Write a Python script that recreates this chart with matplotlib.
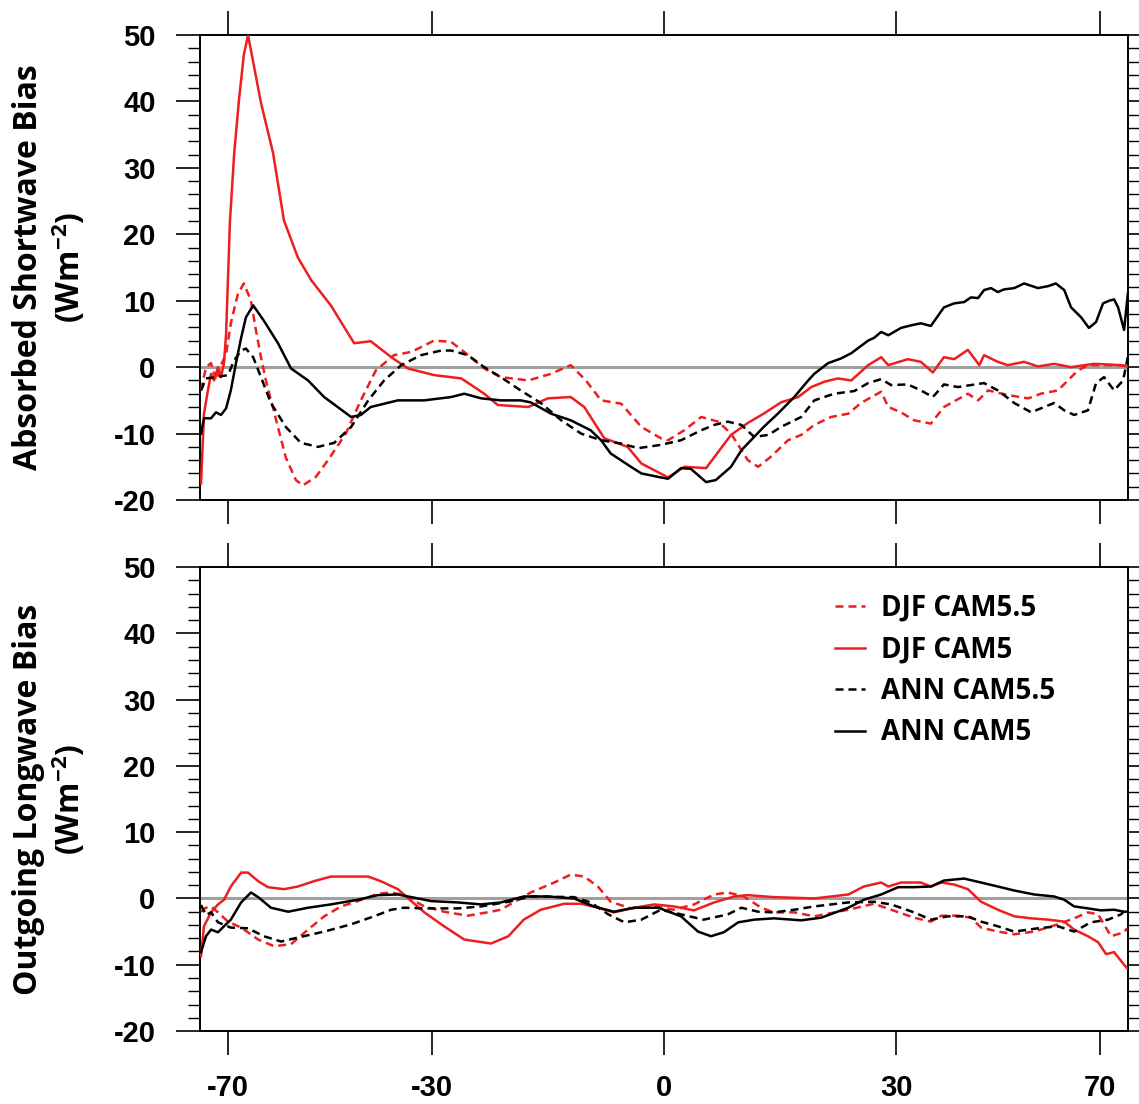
import numpy as np
import matplotlib
matplotlib.use("Agg")
import matplotlib.pyplot as plt
from matplotlib.ticker import FixedLocator, MultipleLocator

# ========== DATA (latitude in deg, bias in W m-2) ==========
sw_djf55_lat = [-86.2, -80.8, -77.5, -74.9, -72.7, -70.7, -69.0, -66.7, -64.9, -62.9,
                -61.6, -60.3, -59.1, -56.7, -54.6, -52.5, -51.1, -48.6, -46.4, -43.3,
                -40.8, -38.4, -35.6, -33.0, -31.6, -29.7, -27.3, -25.3, -22.8, -20.6,
                -17.0, -14.1, -11.6, -9.7, -7.8, -5.3, -2.8, -0.4, 0.5, 2.5,
                4.6, 6.7, 8.3, 10.4, 11.7, 13.3, 15.5, 17.2, 18.9, 21.1,
                23.4, 25.1, 27.9, 28.9, 30.7, 32.6, 35.1, 37.1, 40.9, 42.6,
                44.3, 47.8, 51.7, 54.3, 58.1, 60.5, 63.1, 66.0, 75.9, 86.2]
sw_djf55_val = [-3.5, 0.0, 0.6, -2.0, 0.3, 2.0, 6.6, 11.0, 12.6, 10.0,
                5.6, 1.5, -2.0, -8.0, -13.6, -17.0, -17.8, -16.5, -14.0, -10.0,
                -5.0, -0.5, 1.8, 2.3, 3.0, 4.0, 3.8, 2.1, -0.2, -1.5,
                -2.0, -1.0, 0.3, -2.0, -5.0, -5.5, -9.0, -10.7, -11.0, -9.5,
                -7.5, -8.2, -10.0, -14.0, -15.0, -13.5, -11.0, -10.2, -8.7, -7.5,
                -7.0, -5.4, -3.7, -6.0, -6.8, -8.0, -8.5, -6.0, -4.0, -5.0,
                -3.5, -4.2, -4.7, -4.0, -3.5, -2.0, -0.5, 0.3, 0.3, 0.2]

sw_djf5_lat = [-86.2, -82.5, -79.4, -77.5, -75.9, -74.0, -72.7, -71.5, -70.7, -69.3,
               -67.9, -66.4, -64.9, -63.7, -62.9, -60.3, -57.4, -55.0, -52.1, -49.5,
               -45.9, -41.9, -39.2, -36.0, -33.5, -29.7, -25.9, -22.8, -21.0, -17.0,
               -14.5, -11.6, -9.9, -7.4, -4.5, -2.8, 0.5, 2.5, 5.2, 8.3,
               10.4, 12.4, 14.6, 16.8, 18.5, 20.2, 22.0, 23.8, 26.1, 27.9,
               28.9, 31.7, 33.6, 35.4, 37.1, 38.7, 40.9, 42.8, 43.6, 46.0,
               47.8, 50.9, 53.7, 57.2, 61.3, 67.9, 80.0, 86.2]
sw_djf5_val = [-17.5, -7.0, -3.5, -1.0, -2.0, 0.0, -1.5, 0.6, 5.0, 22.0,
               32.0, 40.0, 47.0, 50.0, 47.7, 39.8, 32.2, 22.1, 16.5, 13.1,
               9.3, 3.6, 3.9, 1.5, -0.2, -1.2, -1.7, -4.0, -5.7, -6.0,
               -4.7, -4.5, -6.0, -10.7, -12.0, -14.5, -16.6, -15.0, -15.2, -10.2,
               -8.4, -7.0, -5.3, -4.5, -3.0, -2.2, -1.7, -2.0, 0.3, 1.5,
               0.3, 1.2, 0.8, -0.8, 1.5, 1.2, 2.6, 0.3, 1.8, 0.8,
               0.3, 0.8, 0.1, 0.5, 0.0, 0.5, 0.3, 0.1]

sw_ann55_lat = [-86.2, -80.8, -74.9, -70.0, -67.9, -65.7, -64.3, -62.3, -60.3, -57.9,
                -54.6, -51.5, -48.2, -45.3, -42.4, -39.6, -37.1, -34.5, -31.6, -28.7,
                -27.3, -25.0, -22.8, -20.6, -18.0, -15.4, -12.8, -10.3, -7.8, -5.3,
                -3.2, -0.4, 2.1, 4.6, 6.2, 7.9, 9.6, 11.2, 13.0, 14.6,
                17.2, 18.9, 21.5, 24.2, 26.1, 27.9, 29.3, 31.7, 33.6, 35.4,
                37.1, 39.3, 41.4, 43.6, 46.0, 49.0, 52.3, 55.0, 57.2, 59.6,
                62.1, 66.0, 68.6, 71.5, 75.9, 81.6, 88.0]
sw_ann55_val = [-3.5, -1.7, -1.5, -1.2, 1.0, 2.5, 2.8, 1.5, -1.5, -5.4,
                -9.0, -11.4, -12.0, -11.4, -9.0, -5.0, -2.0, 0.3, 1.8, 2.5,
                2.5, 1.8, 0.0, -1.5, -3.5, -5.4, -8.0, -10.0, -11.0, -11.5,
                -12.2, -11.7, -11.0, -9.5, -8.7, -8.2, -8.7, -10.5, -10.2, -9.0,
                -7.5, -5.0, -4.0, -3.6, -2.4, -1.8, -2.7, -2.6, -3.5, -4.5,
                -2.6, -3.0, -2.7, -2.4, -3.5, -5.4, -6.8, -6.0, -5.4, -6.5,
                -7.2, -6.5, -2.4, -1.5, -3.5, -2.0, 1.5]

sw_ann5_lat = [-86.2, -82.5, -77.5, -74.9, -72.7, -70.7, -69.0, -67.3, -65.7, -64.3,
               -62.3, -59.6, -56.3, -53.5, -50.1, -47.1, -42.4, -40.8, -39.2, -35.0,
               -31.1, -27.3, -25.5, -23.2, -20.6, -18.0, -16.7, -14.1, -11.6, -9.1,
               -7.8, -6.6, -4.1, -2.8, -0.4, 0.5, 2.1, 3.3, 5.2, 6.4,
               8.3, 9.6, 10.8, 12.4, 14.2, 16.3, 18.1, 18.9, 20.7, 22.4,
               23.8, 26.1, 26.9, 27.9, 28.9, 30.7, 32.2, 33.6, 35.1, 37.1,
               38.7, 40.3, 41.4, 42.6, 43.6, 44.8, 46.0, 47.1, 49.0, 50.9,
               53.7, 55.9, 57.6, 59.6, 61.3, 64.0, 66.3, 68.6, 71.1, 73.6,
               75.9, 78.1, 82.5, 88.0]
sw_ann5_val = [-10.0, -7.7, -7.7, -6.8, -7.2, -6.2, -3.5, 0.6, 4.4, 7.5,
               9.3, 7.0, 3.6, -0.2, -2.0, -4.5, -7.5, -7.2, -6.0, -5.0,
               -5.0, -4.5, -4.0, -4.7, -5.0, -5.0, -5.3, -7.0, -8.0, -9.5,
               -11.0, -13.0, -15.0, -16.0, -16.6, -16.8, -15.2, -15.3, -17.3, -17.0,
               -15.0, -12.5, -11.0, -9.0, -7.0, -4.5, -2.0, -1.0, 0.6, 1.3,
               2.1, 4.0, 4.4, 5.3, 4.8, 5.9, 6.3, 6.6, 6.2, 9.0,
               9.6, 9.8, 10.5, 10.4, 11.6, 11.9, 11.3, 11.7, 11.9, 12.6,
               11.9, 12.2, 12.6, 11.6, 9.0, 7.5, 5.9, 6.8, 9.6, 10.0,
               10.2, 9.0, 5.6, 11.0]

lw_djf55_lat = [-86.2, -80.8, -77.5, -74.0, -70.0, -65.7, -61.0, -57.2, -53.5, -50.1,
                -47.1, -44.1, -41.3, -38.1, -36.0, -34.1, -31.1, -28.3, -25.0, -21.9,
                -20.6, -16.7, -13.7, -11.6, -9.9, -8.2, -6.6, -4.1, -1.2, 1.2,
                3.7, 6.2, 7.9, 9.9, 12.1, 13.7, 16.3, 18.9, 23.4, 26.9,
                29.3, 32.6, 35.1, 36.7, 39.3, 41.4, 43.1, 46.0, 49.0, 52.9,
                58.1, 62.1, 66.0, 69.3, 74.4, 82.5, 86.2]
lw_djf55_val = [-2.0, -1.4, -1.2, -2.1, -3.5, -4.4, -6.2, -7.2, -6.9, -4.7,
                -2.7, -1.2, -0.4, 0.7, 0.9, 0.5, -1.2, -2.0, -2.6, -2.0,
                -1.7, 0.9, 2.4, 3.6, 3.3, 1.8, -0.5, -1.5, -1.2, -1.7,
                -0.9, 0.6, 0.9, 0.3, -1.4, -2.1, -2.1, -2.7, -1.7, -0.8,
                -1.7, -2.9, -3.5, -2.6, -2.6, -2.9, -4.4, -5.0, -5.4, -5.0,
                -3.9, -3.0, -2.1, -2.4, -5.7, -5.1, -4.5]

lw_djf5_lat = [-86.2, -82.5, -77.5, -74.0, -71.5, -69.0, -65.7, -63.7, -61.0, -58.6,
               -55.0, -52.1, -49.0, -45.9, -42.9, -39.6, -37.6, -35.0, -33.0, -31.1,
               -28.3, -25.5, -21.9, -19.6, -17.6, -15.4, -12.4, -10.3, -8.2, -6.2,
               -3.7, -1.2, 1.2, 3.7, 6.2, 8.7, 10.4, 13.7, 18.9, 23.4,
               25.5, 27.9, 28.9, 30.7, 33.6, 35.1, 36.7, 38.7, 40.9, 43.1,
               46.0, 49.0, 52.3, 55.9, 59.6, 62.1, 66.0, 69.3, 72.3, 75.9,
               82.5, 86.2]
lw_djf5_val = [-8.7, -4.2, -2.1, -0.9, -0.2, 1.8, 3.9, 3.9, 2.6, 1.7,
               1.4, 1.8, 2.6, 3.3, 3.3, 3.3, 2.6, 1.4, -0.4, -2.1,
               -4.2, -6.2, -6.8, -5.7, -3.2, -1.7, -0.8, -0.8, -1.4, -2.1,
               -1.4, -0.9, -1.2, -1.8, -0.6, 0.3, 0.5, 0.2, 0.0, 0.6,
               1.8, 2.4, 1.8, 2.4, 2.4, 1.8, 2.4, 2.1, 1.4, -0.5,
               -1.7, -2.7, -3.0, -3.2, -3.5, -4.7, -5.7, -6.6, -8.4, -8.1,
               -10.0, -10.5]

lw_ann55_lat = [-86.2, -80.8, -77.5, -74.0, -69.0, -63.7, -59.6, -55.6, -52.1, -47.1,
                -42.4, -38.7, -36.0, -34.1, -31.1, -26.4, -23.2, -19.6, -16.7, -11.2,
                -9.1, -6.9, -4.9, -2.8, -0.4, 2.1, 4.9, 7.9, 9.6, 11.7,
                13.7, 16.3, 18.9, 23.4, 26.9, 29.3, 32.6, 35.1, 37.7, 40.9,
                43.1, 46.0, 49.0, 53.7, 58.1, 62.1, 66.9, 73.1, 80.0, 86.2]
lw_ann55_val = [-1.0, -2.5, -2.1, -3.6, -4.4, -4.5, -5.7, -6.5, -5.9, -5.0,
                -3.9, -2.7, -1.7, -1.4, -1.5, -1.5, -1.2, -0.5, 0.3, 0.2,
                -0.6, -2.4, -3.6, -3.2, -1.7, -2.4, -3.2, -2.4, -1.4, -2.0,
                -2.1, -1.7, -1.2, -0.6, -0.5, -0.9, -2.1, -3.2, -2.7, -2.7,
                -3.5, -4.2, -5.0, -4.5, -4.2, -5.0, -3.6, -3.2, -2.4, -1.5]

lw_ann5_lat = [-86.2, -80.8, -77.5, -74.0, -71.5, -69.0, -65.7, -62.9, -61.0, -57.9,
               -54.1, -50.1, -45.9, -41.3, -38.1, -35.0, -33.0, -30.1, -26.4, -23.2,
               -20.6, -17.6, -14.5, -11.2, -8.7, -6.2, -3.7, -0.7, 2.1, 4.2,
               5.8, 7.4, 9.2, 11.2, 13.7, 17.2, 19.8, 23.4, 25.5, 27.9,
               30.3, 32.6, 35.1, 37.1, 40.3, 43.1, 46.0, 49.0, 52.9, 57.2,
               59.6, 62.1, 66.0, 70.3, 75.9, 82.5, 86.2]
lw_ann5_val = [-8.1, -5.7, -4.7, -5.1, -4.2, -3.2, -0.6, 0.9, 0.2, -1.4,
               -2.0, -1.4, -0.9, -0.2, 0.5, 0.6, 0.2, -0.4, -0.6, -0.9,
               -0.6, 0.3, 0.3, 0.0, -1.2, -2.0, -1.4, -1.4, -2.7, -5.0,
               -5.7, -5.1, -3.6, -3.2, -3.0, -3.3, -2.9, -1.4, -0.2, 0.6,
               1.7, 1.7, 1.8, 2.7, 3.0, 2.4, 1.8, 1.2, 0.6, 0.3,
               -0.2, -1.2, -1.5, -1.8, -1.7, -2.0, -2.0]

x_ticks = [-70, -30, 0, 30, 70]
y_ticks = [-20, -10, 0, 10, 20, 30, 40, 50]
panel_labels = ["Absorbed Shortwave Bias\n(Wm$^{\\mathbf{-2}}$)",
                "Outgoing Longwave Bias\n(Wm$^{\\mathbf{-2}}$)"]
legend_labels = ["DJF CAM5.5", "DJF CAM5", "ANN CAM5.5", "ANN CAM5"]
# ============================

RED = "#ee1e1e"
DASH = (0, (3.2, 2.0))
TICK_FONT = "Liberation Sans"
LABEL_FONT = "Open Sans"

plt.rcParams["mathtext.fontset"] = "custom"
plt.rcParams["mathtext.rm"] = LABEL_FONT
plt.rcParams["mathtext.bf"] = LABEL_FONT + ":bold"


def sin_lat(x):
    return np.sin(np.deg2rad(x))


def inv_sin_lat(y):
    return np.rad2deg(np.arcsin(np.clip(y, -1, 1)))


def style_axis(ax, show_xlabels):
    ax.set_xscale("function", functions=(sin_lat, inv_sin_lat))
    ax.set_xlim(-90, 90)
    ax.set_ylim(-20, 50)
    ax.xaxis.set_major_locator(FixedLocator(x_ticks))
    ax.xaxis.set_minor_locator(FixedLocator([]))
    ax.yaxis.set_major_locator(FixedLocator(y_ticks))
    ax.yaxis.set_minor_locator(MultipleLocator(2))
    ax.axhline(0, color="#a0a0a0", lw=2.2, zorder=1)
    for s in ax.spines.values():
        s.set_linewidth(1.4)
    ax.tick_params(axis="x", which="major", direction="out", length=17, width=1.2,
                   top=True, bottom=True, labelbottom=show_xlabels, pad=14,
                   labelsize=21)
    ax.tick_params(axis="y", which="major", direction="out", length=17, width=1.2,
                   left=True, right=True, pad=15, labelsize=21)
    ax.tick_params(axis="y", which="minor", direction="out", length=8.5, width=1.0,
                   left=True, right=True)
    ax.set_xticklabels([str(t) for t in x_ticks])
    ax.set_yticklabels([str(t) for t in y_ticks])
    for lab in ax.get_xticklabels() + ax.get_yticklabels():
        lab.set_fontfamily(TICK_FONT)
        lab.set_fontweight("bold")


def main():
    fig = plt.figure(figsize=(11.39, 11.04), dpi=100)
    ax1 = fig.add_axes([0.1756, 0.5471, 0.8148, 0.4212])
    ax2 = fig.add_axes([0.1756, 0.0661, 0.8148, 0.4203])

    lw = 1.8
    ax1.plot(sw_djf55_lat, sw_djf55_val, color=RED, lw=lw, ls=DASH, zorder=3)
    ax1.plot(sw_djf5_lat, sw_djf5_val, color=RED, lw=lw, zorder=3)
    ax1.plot(sw_ann55_lat, sw_ann55_val, color="black", lw=lw, ls=DASH, zorder=3)
    ax1.plot(sw_ann5_lat, sw_ann5_val, color="black", lw=lw, zorder=3)

    h1, = ax2.plot(lw_djf55_lat, lw_djf55_val, color=RED, lw=lw, ls=DASH, zorder=3)
    h2, = ax2.plot(lw_djf5_lat, lw_djf5_val, color=RED, lw=lw, zorder=3)
    h3, = ax2.plot(lw_ann55_lat, lw_ann55_val, color="black", lw=lw, ls=DASH, zorder=3)
    h4, = ax2.plot(lw_ann5_lat, lw_ann5_val, color="black", lw=lw, zorder=3)

    style_axis(ax1, False)
    style_axis(ax2, True)

    ax2.legend([h1, h2, h3, h4], legend_labels, loc="upper left",
               bbox_to_anchor=(0.684, 0.942), frameon=False, borderpad=0,
               borderaxespad=0, handlelength=1.1, handletextpad=0.55,
               labelspacing=0.45,
               prop={"family": LABEL_FONT, "weight": "bold", "size": 20})

    for label, yc in zip(panel_labels, [0.7577, 0.2763]):
        fig.text(50 / 1139, yc, label, rotation=90, ha="center", va="center",
                 multialignment="center", fontsize=23, fontweight="bold",
                 family=LABEL_FONT, linespacing=1.2)

    fig.savefig("out.png", dpi=100)
    plt.close(fig)


if __name__ == "__main__":
    main()
